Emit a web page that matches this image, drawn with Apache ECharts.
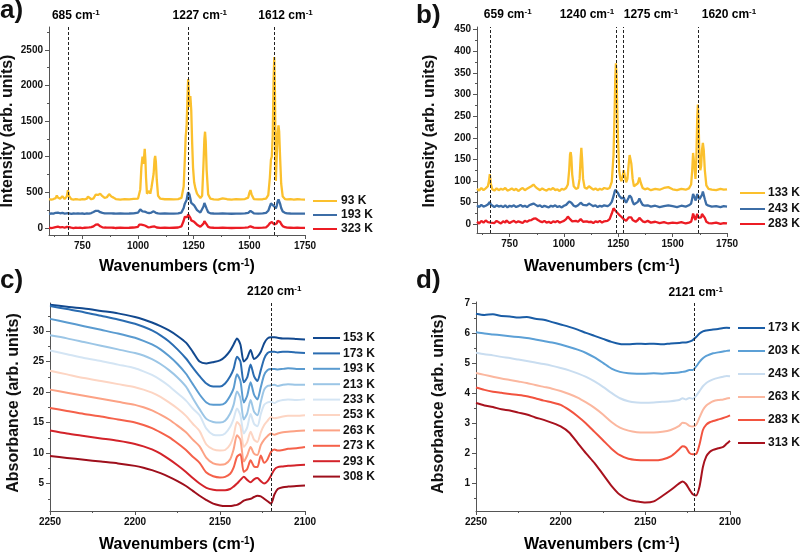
<!DOCTYPE html>
<html><head><meta charset="utf-8">
<script src="https://cdn.jsdelivr.net/npm/echarts@6/dist/echarts.min.js"></script>
<style>html,body{margin:0;padding:0;background:#fff}#c{width:800px;height:553px}</style>
</head><body><div id="c"></div>
<script>
// ---------------- Panel a (Raman) ----------------
const xA = [
 600,610,620,630,635,640,650,655,660,670,
 680,685,690,700,710,720,730,740,750,760,
 770,775,780,790,800,810,815,820,825,830,
 835,840,850,860,865,870,875,880,885,890,
 900,920,940,960,980,1000,1005,1010,1015,1020,
 1024,1027,1030,1033,1036,1040,1045,1050,1055,1060,
 1065,1070,1074,1077,1080,1084,1090,1100,1120,1140,
 1160,1180,1195,1205,1210,1214,1218,1222,1225,1228,
 1231,1235,1239,1243,1247,1252,1258,1265,1272,1280,
 1288,1294,1298,1301,1304,1308,1315,1325,1340,1360,
 1380,1400,1420,1440,1460,1480,1495,1500,1505,1510,
 1520,1540,1560,1575,1585,1592,1597,1601,1605,1609,
 1612,1615,1619,1623,1627,1631,1634,1638,1643,1650,
 1660,1670,1685,1700,1715,1730,1750];
const a93K = [
 402,396,405,418,455,425,408,420,446,405,
 440,530,450,404,398,405,400,396,403,400,
 410,440,412,402,415,468,482,462,470,480,
 462,445,420,430,455,475,450,440,462,425,
 405,398,404,400,406,412,430,540,850,1000,
 900,990,1110,960,700,480,500,520,480,560,
 560,760,960,1010,930,680,450,410,402,405,
 400,404,420,580,950,1280,1420,1820,2090,1920,
 1700,1850,1650,1200,850,640,550,480,450,420,
 450,900,1250,1350,1220,820,470,410,400,396,
 415,402,398,404,400,405,425,490,530,470,
 405,400,402,410,460,700,960,1000,1300,2100,
 2400,1900,660,1000,1320,1440,1350,1000,620,440,
 405,400,403,398,402,400,398];
const a193K = [
 198,202,200,212,228,215,205,225,212,200,
 205,212,204,198,202,199,203,200,202,198,
 203,206,201,208,222,240,245,240,230,220,
 214,210,205,203,206,205,201,203,200,202,
 199,203,200,202,205,215,240,258,245,232,
 240,236,228,232,222,215,210,208,212,215,
 222,232,228,220,212,206,203,200,202,199,
 201,204,215,280,340,360,390,460,500,520,
 470,410,350,350,330,315,290,250,225,215,
 225,300,350,360,330,270,220,205,202,200,
 203,200,198,201,200,203,210,228,238,222,
 205,201,203,210,240,300,345,352,340,310,
 300,290,275,310,370,400,390,340,280,230,
 212,205,202,200,201,199,200];
const a323K = [
 3,-4,2,10,32,18,8,28,12,2,
 14,25,10,2,-3,4,0,3,-2,2,
 4,2,6,10,22,45,52,48,35,22,
 14,8,5,3,6,4,1,3,0,2,
 -2,3,0,2,5,15,45,62,45,30,
 40,35,25,30,18,12,8,6,10,12,
 18,25,20,14,8,5,3,1,2,-1,
 2,5,20,100,155,165,170,150,190,210,
 185,140,105,110,90,85,70,45,25,15,
 20,60,95,100,85,50,14,4,2,0,
 3,0,-2,1,0,3,8,18,22,12,
 4,1,3,8,35,65,80,82,75,55,
 48,42,40,62,100,120,110,85,55,25,
 10,4,2,0,2,-1,1];
const peaksA = [685, 1227, 1612];
const namesA = ['93 K', '193 K', '323 K'];

// ---------------- Panel b (Raman) ----------------
const xB = [
 600,610,620,630,640,650,655,659,663,670,
 680,690,700,710,720,730,735,740,750,760,
 770,780,790,800,810,820,830,840,850,860,
 865,870,880,890,900,910,920,930,940,950,
 960,970,980,990,1000,1010,1018,1024,1028,1031,
 1034,1038,1045,1055,1065,1072,1077,1080,1083,1088,
 1095,1105,1115,1120,1125,1135,1145,1155,1165,1175,
 1185,1192,1200,1210,1220,1228,1233,1236,1239,1242,
 1245,1249,1254,1259,1265,1270,1275,1280,1286,1292,
 1298,1302,1306,1310,1316,1322,1330,1340,1347,1354,
 1362,1372,1385,1400,1420,1440,1460,1480,1500,1520,
 1540,1560,1575,1585,1590,1594,1597,1601,1605,1609,
 1613,1616,1619,1623,1627,1631,1635,1639,1643,1648,
 1655,1665,1680,1700,1720,1735,1750];
const b133K = [
 82,78,84,79,83,88,100,116,95,81,
 78,83,79,82,80,84,88,78,80,83,
 79,82,77,81,84,79,82,85,88,92,
 90,86,82,79,83,80,78,82,80,84,
 79,81,77,82,80,84,92,125,162,167,
 155,115,88,82,84,105,155,177,155,105,
 85,82,88,90,84,80,83,79,82,80,
 84,88,82,84,98,160,260,335,372,345,
 270,190,125,105,100,112,125,112,97,105,
 140,160,162,140,105,88,86,95,108,95,
 84,81,83,79,82,80,84,86,81,79,
 82,80,83,92,125,165,168,130,105,150,
 245,277,245,160,125,135,172,188,172,125,
 90,82,80,79,82,80,81];
const b243K = [
 44,40,45,41,43,46,48,52,46,42,
 40,44,41,43,40,44,42,39,43,41,
 44,40,42,45,41,43,40,44,46,48,
 47,45,42,44,40,43,41,39,43,41,
 44,40,42,39,43,45,48,53,55,52,
 50,46,43,41,44,47,50,53,49,45,
 42,44,48,50,45,42,44,40,43,41,
 44,43,42,45,52,65,75,80,84,82,
 78,72,66,62,60,58,62,55,50,52,
 62,67,68,62,52,46,45,52,60,52,
 45,43,44,41,43,40,42,44,42,40,
 43,41,44,48,60,70,72,62,55,60,
 70,73,68,58,55,58,68,76,72,58,
 46,43,41,42,40,42,41];
const b283K = [
 6,2,8,4,9,5,3,8,4,7,
 3,8,5,2,7,4,9,5,3,6,
 8,4,7,5,3,8,6,9,10,13,
 12,14,10,7,5,8,4,6,3,7,
 5,8,4,6,8,12,18,16,12,10,
 9,7,5,8,6,9,12,10,8,6,
 4,7,5,8,6,3,7,5,8,4,
 7,6,8,12,25,37,35,32,30,28,
 27,25,22,20,17,15,12,10,8,10,
 16,19,20,16,10,7,6,10,15,11,
 7,5,8,4,6,3,5,2,4,3,
 5,2,4,6,15,25,27,15,10,18,
 24,22,15,13,12,16,24,28,26,15,
 6,3,2,4,1,3,2];
const peaksB = [659, 1240, 1275, 1620];
const namesB = ['133 K', '243 K', '283 K'];

// ---------------- Panel c (IR) ----------------
const xC = [
 2250,2240,2230,2220,2210,2200,2195,2190,2185,2180,
 2175,2170,2166,2162,2158,2154,2150,2147,2144,2142,
 2140,2138,2136,2134,2132,2130,2128,2126,2124,2122,
 2120,2118,2116,2113,2110,2105,2100];
const c153K = [
 34.3,34.0,33.7,33.3,32.9,32.3,31.9,31.4,30.8,30.1,
 29.2,28.1,26.6,25.0,24.7,24.9,25.2,25.8,26.8,27.8,
 28.8,27.8,25.0,25.6,26.9,25.4,25.8,26.6,28.0,28.8,
 29.0,29.0,28.9,28.8,28.8,28.7,28.6];
const c173K = [
 34.1,33.6,33.1,32.5,31.9,31.2,30.7,30.1,29.3,28.3,
 27.0,25.5,24.0,22.6,21.4,20.9,20.9,21.4,22.6,23.8,
 25.8,25.0,21.6,22.4,24.5,22.6,21.8,23.6,25.5,26.4,
 26.6,26.6,26.5,26.6,26.6,26.5,26.4];
const c193K = [
 32.0,31.4,30.8,30.2,29.6,28.9,28.4,27.8,27.0,25.9,
 24.6,23.0,21.3,19.6,18.3,17.9,17.9,18.2,19.4,20.6,
 22.9,21.8,18.3,19.4,21.6,19.6,18.8,20.8,22.8,23.6,
 23.8,23.8,23.7,23.8,23.9,23.8,23.8];
const c213K = [
 29.3,28.8,28.2,27.6,27.0,26.4,26.0,25.4,24.6,23.6,
 22.4,20.9,19.0,17.2,15.6,15.1,15.0,15.3,16.5,17.9,
 20.1,19.0,15.5,16.5,18.7,16.8,16.2,18.4,20.4,21.0,
 21.1,21.2,21.0,21.2,21.3,21.2,21.2];
const c233K = [
 26.8,26.2,25.6,25.1,24.5,23.9,23.4,22.8,22.0,21.0,
 19.8,18.6,17.3,16.2,14.0,13.0,12.9,13.2,14.3,15.6,
 17.3,16.2,13.2,14.2,16.4,14.8,14.4,16.4,17.9,18.3,
 18.4,18.2,18.5,18.7,18.8,18.7,18.8];
const c253K = [
 23.5,22.9,22.3,21.8,21.3,20.8,20.4,19.9,19.2,18.3,
 17.3,16.1,14.8,13.6,11.4,10.6,10.4,10.5,11.4,12.8,
 15.1,14.4,11.0,11.8,13.5,12.2,11.8,13.4,14.6,15.3,
 15.9,15.7,15.8,16.0,16.1,16.1,16.2];
const c263K = [
 20.4,19.9,19.4,18.9,18.4,17.9,17.5,17.0,16.3,15.5,
 14.5,13.4,12.2,11.1,9.2,8.3,8.1,8.2,9.0,10.6,
 12.9,12.2,8.6,9.6,11.0,9.9,9.7,11.3,12.2,12.8,
 13.2,13.0,13.2,13.4,13.5,13.6,13.7];
const c273K = [
 17.4,16.9,16.4,16.0,15.5,15.0,14.6,14.1,13.4,12.6,
 11.6,10.5,9.4,8.4,6.8,6.2,6.0,6.1,6.6,7.6,
 9.4,9.8,6.9,7.4,8.8,7.8,7.7,9.6,8.4,9.0,
 10.2,10.6,10.4,10.5,10.7,10.8,11.0];
const c293K = [
 13.7,13.2,12.8,12.4,12.0,11.5,11.1,10.6,9.9,9.0,
 8.0,6.9,5.9,5.0,4.3,4.0,3.9,3.9,4.1,4.5,
 5.0,5.6,6.1,5.6,5.2,5.7,5.9,5.4,5.0,5.4,
 6.3,7.3,7.7,7.8,7.9,8.0,8.1];
const c308K = [
 9.5,9.2,8.9,8.6,8.3,7.9,7.6,7.2,6.7,6.1,
 5.4,4.6,3.8,3.0,2.3,1.7,1.4,1.3,1.3,1.4,
 1.5,1.8,2.2,2.4,2.5,2.8,3.0,2.9,2.5,2.1,
 1.7,3.2,4.1,4.4,4.5,4.6,4.7];
const peaksC = [2120];
const namesC = ['153 K','173 K','193 K','213 K','233 K','253 K','263 K','273 K','293 K','308 K'];

// ---------------- Panel d (IR) ----------------
const xD = [
 2250,2245,2240,2235,2230,2225,2220,2215,2210,2205,
 2200,2195,2190,2185,2180,2175,2170,2165,2160,2155,
 2150,2145,2140,2135,2130,2128,2126,2124,2122,2120,
 2118,2116,2114,2112,2110,2107,2104,2102,2100];
const d173K = [
 6.66,6.62,6.64,6.58,6.57,6.53,6.55,6.49,6.46,6.38,
 6.30,6.22,6.13,6.02,5.92,5.82,5.72,5.65,5.64,5.66,
 5.65,5.66,5.64,5.67,5.68,5.70,5.70,5.73,5.78,5.88,
 6.00,6.07,6.10,6.12,6.13,6.15,6.18,6.19,6.18];
const d203K = [
 6.04,6.00,5.97,5.94,5.91,5.88,5.85,5.80,5.75,5.70,
 5.63,5.55,5.46,5.35,5.20,5.02,4.83,4.72,4.67,4.66,
 4.66,4.67,4.66,4.68,4.70,4.72,4.74,4.78,4.78,4.90,
 5.05,5.17,5.25,5.30,5.34,5.37,5.40,5.42,5.43];
const d243K = [
 5.36,5.31,5.27,5.22,5.18,5.13,5.08,5.03,4.98,4.92,
 4.85,4.77,4.67,4.55,4.40,4.22,4.02,3.84,3.74,3.70,
 3.69,3.70,3.72,3.74,3.78,3.84,3.80,3.85,3.82,3.92,
 4.08,4.24,4.35,4.42,4.47,4.52,4.56,4.58,4.57];
const d263K = [
 4.68,4.62,4.56,4.50,4.45,4.40,4.35,4.28,4.22,4.16,
 4.08,3.98,3.86,3.70,3.52,3.30,3.05,2.86,2.76,2.71,
 2.70,2.70,2.72,2.78,2.92,3.02,3.00,2.92,2.90,2.95,
 3.20,3.45,3.60,3.68,3.74,3.78,3.80,3.83,3.85];
const d283K = [
 4.20,4.12,4.06,4.02,3.98,3.95,3.91,3.84,3.76,3.70,
 3.62,3.45,3.24,3.00,2.72,2.44,2.16,1.94,1.82,1.78,
 1.77,1.77,1.80,1.90,2.14,2.24,2.20,2.02,1.97,1.98,
 2.30,2.78,2.96,3.04,3.08,3.13,3.18,3.22,3.27];
const d313K = [
 3.68,3.60,3.55,3.47,3.43,3.36,3.30,3.20,3.12,3.02,
 2.90,2.70,2.35,2.00,1.68,1.30,0.92,0.62,0.46,0.40,
 0.36,0.40,0.58,0.78,1.00,1.06,0.98,0.80,0.64,0.60,
 0.90,1.55,1.90,2.05,2.12,2.17,2.22,2.32,2.42];
const peaksD = [2121];
const namesD = ['173 K','203 K','243 K','263 K','283 K','313 K'];

// ---------------- tick values ----------------
const ticksRamanX = [750, 1000, 1250, 1500, 1750];
const minorRamanX = [625, 875, 1125, 1375, 1625];
const ticksAY = [0, 500, 1000, 1500, 2000, 2500];
const minorAY = [250, 750, 1250, 1750, 2250, 2750];
const ticksBY = [0, 50, 100, 150, 200, 250, 300, 350, 400, 450];
const minorBY = [25, 75, 125, 175, 225, 275, 325, 375, 425];
const ticksIRX = [2100, 2150, 2200, 2250];
const minorIRX = [2125, 2175, 2225];
const ticksCY = [5, 10, 15, 20, 25, 30];
const minorCY = [2.5, 7.5, 12.5, 17.5, 22.5, 27.5, 32.5];
const ticksDY = [1, 2, 3, 4, 5, 6, 7];
const minorDY = [0.5, 1.5, 2.5, 3.5, 4.5, 5.5, 6.5];

// ---------------- styling ----------------
const FONT = '"Liberation Sans", Arial, Helvetica, sans-serif';
const AX = '#555';
const colRaman = ['#FBC02D', '#3C6DA6', '#EC1C24'];
const colC = ['#12498F', '#2A6CB1', '#5A9BD0', '#9CC6E6', '#D4E5F4', '#FDD5C3', '#FCA285', '#F5614A', '#D3232A', '#9E0F1C'];
const colD = ['#1A5DA6', '#5CA0D6', '#C9DDF0', '#FBB79F', '#F2533F', '#A8121E'];

const chart = echarts.init(document.getElementById('c'), null, {renderer: 'canvas'});

const grids = [
  {left: 49, top: 27, width: 256, height: 208},
  {left: 477, top: 27, width: 250, height: 206},
  {left: 50, top: 303, width: 255, height: 208},
  {left: 476, top: 302, width: 254, height: 209}
];

function mainAxis(dim, gi, min, max, majors, inverse) {
  return {
    type: 'value', gridIndex: gi, min, max, inverse: !!inverse,
    position: dim === 'x' ? 'bottom' : 'left',
    splitLine: {show: false},
    axisLine: {show: true, onZero: false, lineStyle: {color: AX, width: 1}},
    axisTick: {show: true, customValues: majors, length: 4, lineStyle: {color: AX, width: 1}},
    axisLabel: {show: true, customValues: majors, fontFamily: FONT, fontWeight: 'bold',
      fontSize: 10, color: '#111', margin: 6, formatter: v => String(v)}
  };
}
function minorAxis(dim, gi, min, max, minors, inverse) {
  return {
    type: 'value', gridIndex: gi, min, max, inverse: !!inverse,
    position: dim === 'x' ? 'bottom' : 'left',
    splitLine: {show: false},
    axisLine: {show: false, onZero: false},
    axisTick: {show: true, customValues: minors, length: 2, lineStyle: {color: AX, width: 1}},
    axisLabel: {show: false}
  };
}

const xAxes = [
  mainAxis('x', 0, 600, 1750, ticksRamanX),
  mainAxis('x', 1, 600, 1750, ticksRamanX),
  mainAxis('x', 2, 2100, 2250, ticksIRX, true),
  mainAxis('x', 3, 2100, 2250, ticksIRX, true),
  minorAxis('x', 0, 600, 1750, minorRamanX),
  minorAxis('x', 1, 600, 1750, minorRamanX),
  minorAxis('x', 2, 2100, 2250, minorIRX, true),
  minorAxis('x', 3, 2100, 2250, minorIRX, true)
];
const yAxes = [
  mainAxis('y', 0, -100, 2820, ticksAY),
  mainAxis('y', 1, -20, 456, ticksBY),
  mainAxis('y', 2, 0.5, 34.6, ticksCY),
  mainAxis('y', 3, 0.08, 7.05, ticksDY),
  minorAxis('y', 0, -100, 2820, minorAY),
  minorAxis('y', 1, -20, 456, minorBY),
  minorAxis('y', 2, 0.5, 34.6, minorCY),
  minorAxis('y', 3, 0.08, 7.05, minorDY)
];

const zip = (xs, ys) => xs.map((x, i) => [x, ys[i]]);
function line(name, xs, ys, color, gi, smooth, width) {
  return {
    type: 'line', name, xAxisIndex: gi, yAxisIndex: gi, data: zip(xs, ys),
    symbol: 'none', showSymbol: false, smooth: smooth || false, animation: false, silent: true,
    lineStyle: {color, width: width || 2}, itemStyle: {color}
  };
}
function withPeaks(s, peaks) {
  s.markLine = {
    silent: true, animation: false, symbol: ['none', 'none'], label: {show: false},
    lineStyle: {color: '#222', type: [3, 2], width: 1},
    data: peaks.map(v => ({xAxis: v}))
  };
  return s;
}

const series = [];
const sA = [a93K, a193K, a323K].map((ys, i) => line(namesA[i], xA, ys, colRaman[i], 0, false, 2.3));
withPeaks(sA[sA.length - 1], peaksA);
const sB = [b133K, b243K, b283K].map((ys, i) => line('b' + namesB[i], xB, ys, colRaman[i], 1, false, 2.3));
withPeaks(sB[sB.length - 1], peaksB);
const sC = [c153K, c173K, c193K, c213K, c233K, c253K, c263K, c273K, c293K, c308K]
  .map((ys, i) => line('c' + namesC[i], xC, ys, colC[i], 2, 0.25, 2));
withPeaks(sC[sC.length - 1], peaksC);
const sD = [d173K, d203K, d243K, d263K, d283K, d313K]
  .map((ys, i) => line('d' + namesD[i], xD, ys, colD[i], 3, 0.25, 2));
withPeaks(sD[sD.length - 1], peaksD);
series.push(...sA, ...sB, ...sC, ...sD);

chart.setOption({
  animation: false,
  backgroundColor: '#fff',
  grid: grids,
  xAxis: xAxes,
  yAxis: yAxes,
  series
});

// ---------------- annotations ----------------
const g = [];
function richLabel(x, y, main, size, supSize, align, tail, rot) {
  const rich = {
    m: {fontFamily: FONT, fontWeight: 'bold', fontSize: size, color: '#111', lineHeight: size + 2},
    s: {fontFamily: FONT, fontWeight: 'bold', fontSize: supSize, color: '#111', verticalAlign: 'top', lineHeight: size + 2}
  };
  const el = {
    type: 'text', x, y, silent: true, z: 100,
    style: {
      text: '{m|' + main + '}{s|-1}' + (tail ? '{m|' + tail + '}' : ''),
      rich, align: align || 'left', verticalAlign: 'middle'
    }
  };
  if (rot) el.rotation = rot;
  return el;
}
function plainText(x, y, text, size, align, rot) {
  const el = {type: 'text', x, y, silent: true, z: 100,
    style: {text, fontFamily: FONT, fontWeight: 'bold', fontSize: size, fill: '#111',
      align: align || 'left', verticalAlign: 'middle'}};
  if (rot) el.rotation = rot;
  return el;
}
const px = (ai, v) => chart.convertToPixel({xAxisIndex: ai}, v);

// peak labels
peaksA.forEach(v => g.push(richLabel(px(0, v) - 16, 16, v + ' cm', 12, 8, 'left')));
const bOff = [[-6, 'left'], [-2, 'right'], [0, 'left'], [3, 'left']];
peaksB.forEach((v, i) => g.push(richLabel(px(1, v) + bOff[i][0], 15, v + ' cm', 12, 8, bOff[i][1])));
peaksC.forEach(v => g.push(richLabel(px(2, v) - 24, 292, v + ' cm', 12, 8, 'left')));
peaksD.forEach(v => g.push(richLabel(px(3, v) - 26, 293, v + ' cm', 12, 8, 'left')));

// axis titles
g.push(richLabel(177, 267, 'Wavenumbers (cm', 16, 10, 'center', ')'));
g.push(richLabel(602, 267, 'Wavenumbers (cm', 16, 10, 'center', ')'));
g.push(richLabel(177, 545, 'Wavenumbers (cm', 16, 10, 'center', ')'));
g.push(richLabel(602, 545, 'Wavenumbers (cm', 16, 10, 'center', ')'));
g.push(plainText(8, 131, 'Intensity (arb. units)', 16, 'center', Math.PI / 2));
g.push(plainText(430, 131, 'Intensity (arb. units)', 16, 'center', Math.PI / 2));
g.push(plainText(14, 403, 'Absorbance (arb. units)', 16, 'center', Math.PI / 2));
g.push(plainText(439, 404, 'Absorbance (arb. units)', 16, 'center', Math.PI / 2));

// panel letters
g.push(plainText(0, 11, 'a)', 26, 'left'));
g.push(plainText(416, 16, 'b)', 26, 'left'));
g.push(plainText(0, 281, 'c)', 26, 'left'));
g.push(plainText(416, 281, 'd)', 26, 'left'));

// legends
function legend(names, colors, x1, x2, tx, ys) {
  names.forEach((n, i) => {
    g.push({type: 'line', silent: true, z: 100, shape: {x1, y1: ys[i], x2, y2: ys[i]},
      style: {stroke: colors[i], lineWidth: 2}});
    g.push(plainText(tx, ys[i], n, 12, 'left'));
  });
}
legend(namesA, colRaman, 313, 337, 341, [201, 215, 229]);
legend(namesB, colRaman, 740, 765, 768, [193, 209, 224]);
legend(namesC, colC, 313, 340, 343, namesC.map((_, i) => 338 + i * 15.4));
legend(namesD, colD, 738, 765, 768, namesD.map((_, i) => 328 + i * 23));

chart.setOption({graphic: g});
</script>
</body></html>
